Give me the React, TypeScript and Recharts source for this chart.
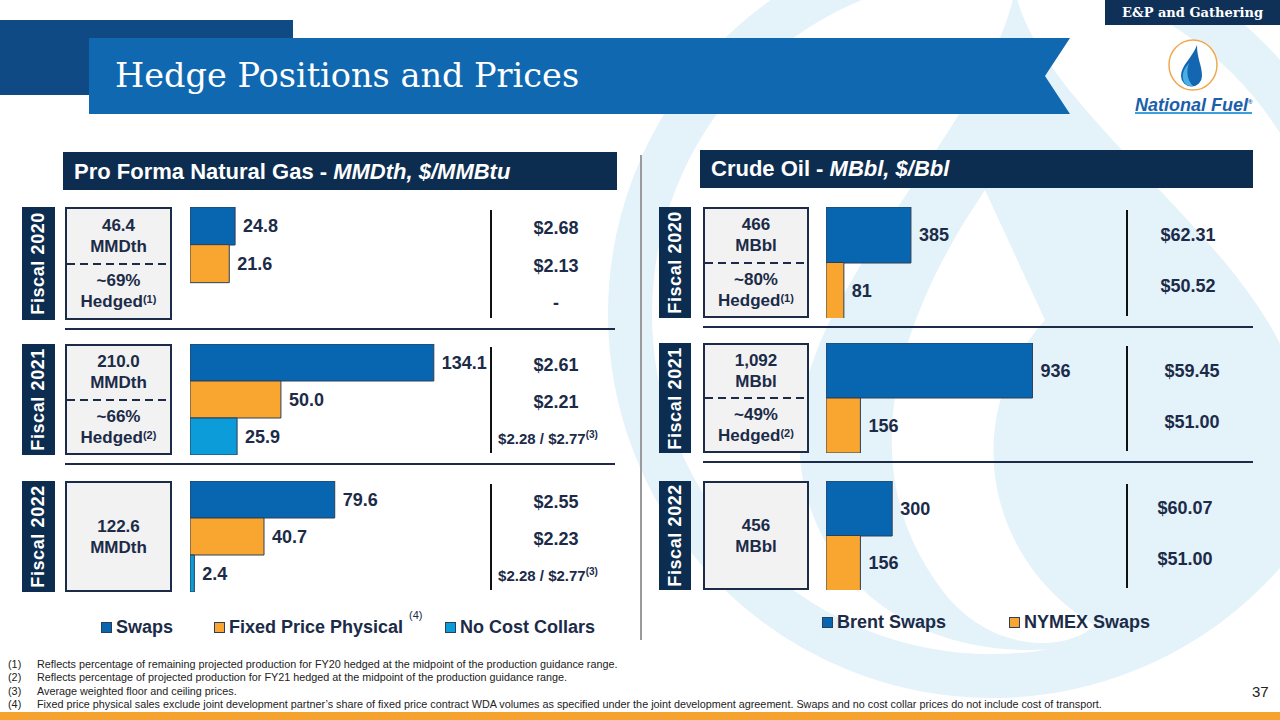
import React from 'react';
import { BarChart, Bar, XAxis, YAxis, Cell, LabelList } from 'recharts';

// ---------- data ----------
const gasYears = ['Fiscal 2020', 'Fiscal 2021', 'Fiscal 2022'];
const gasSeries = ['Swaps', 'Fixed Price Physical', 'No Cost Collars'];
const gasSwaps = [24.8, 134.1, 79.6];
const gasFixed = [21.6, 50.0, 40.7];
const gasCollars = [0, 25.9, 2.4];
const gasTotals = ['46.4', '210.0', '122.6'];
const gasHedged = ['~69%', '~66%', ''];
const gasHedgeNotes = ['(1)', '(2)', ''];
const gasSwapPrices = ['$2.68', '$2.61', '$2.55'];
const gasFixedPrices = ['$2.13', '$2.21', '$2.23'];
const gasCollarPrices = ['-', '$2.28 / $2.77', '$2.28 / $2.77'];
const gasCollarNotes = ['', '(3)', '(3)'];

const oilYears = ['Fiscal 2020', 'Fiscal 2021', 'Fiscal 2022'];
const oilSeries = ['Brent Swaps', 'NYMEX Swaps'];
const oilBrent = [385, 936, 300];
const oilNymex = [81, 156, 156];
const oilTotals = ['466', '1,092', '456'];
const oilHedged = ['~80%', '~49%', ''];
const oilHedgeNotes = ['(1)', '(2)', ''];
const oilBrentPrices = ['$62.31', '$59.45', '$60.07'];
const oilNymexPrices = ['$50.52', '$51.00', '$51.00'];

const footnotes = [
  'Reflects percentage of remaining projected production for FY20 hedged at the midpoint of the production guidance range.',
  'Reflects percentage of projected production for FY21 hedged at the midpoint of the production guidance range.',
  'Average weighted floor and ceiling prices.',
  "Fixed price physical sales exclude joint development partner\u2019s share of fixed price contract WDA volumes as specified under the joint development agreement. Swaps and no cost collar prices do not include cost of transport.",
];

// ---------- styles ----------
const FONT = '"Liberation Sans", Arial, Helvetica, sans-serif';
const NAVY = '#1b2b48';
const DARK = '#0d2d50';
const BLUE = '#0866b0';
const ORANGE = '#f9a631';
const LIGHTBLUE = '#0b9cd9';
const BAR_STROKE = '#2c3f58';
const PALE = '#e4f2fa';

const gasColors = [BLUE, ORANGE, LIGHTBLUE];
const oilColors = [BLUE, ORANGE];

// layout
const gasRowTop = [207, 344, 481];
const gasRowH = [113, 111, 111];
const oilRowTop = [207, 343, 481];
const oilRowH = [111, 110, 109];

function RowChart(props: {
  left: number; top: number; width: number; height: number;
  data: { name: string; value: number }[]; colors: string[]; max: number;
  fmt: (v: number) => string; zeroOffset: number;
}) {
  const { left, top, width, height, data, colors, max, fmt, zeroOffset } = props;
  return (
    <div style={{ position: 'absolute', left, top, width, height }}>
      <BarChart
        layout="vertical"
        width={width}
        height={height}
        data={data}
        margin={{ top: 0, right: 0, bottom: 0, left: 0 }}
        barCategoryGap={0}
      >
        <XAxis type="number" domain={[0, max]} hide />
        <YAxis type="category" dataKey="name" hide />
        <Bar dataKey="value" isAnimationActive={false} stroke={BAR_STROKE} strokeWidth={1}>
          {data.map((d, i) => (
            <Cell key={i} fill={colors[i]} />
          ))}
          <LabelList
            dataKey="value"
            content={(p: any) => {
              const v = Number(p.value);
              const x = Number(p.x) + Number(p.width) + (v === 0 ? zeroOffset : 8);
              const y = Number(p.y) + Number(p.height) / 2;
              return (
                <text
                  x={x}
                  y={y}
                  dominantBaseline="central"
                  fontFamily={FONT}
                  fontWeight="bold"
                  fontSize={18}
                  fill={NAVY}
                >
                  {fmt(v)}
                </text>
              );
            }}
          />
        </Bar>
      </BarChart>
    </div>
  );
}

function Tag({ left, top, width, height, label }: any) {
  return (
    <div
      style={{
        position: 'absolute', left, top, width, height, background: DARK,
        display: 'flex', alignItems: 'center', justifyContent: 'center',
      }}
    >
      <div
        style={{
          writingMode: 'vertical-rl', transform: 'rotate(180deg)', color: '#fff',
          fontFamily: FONT, fontWeight: 'bold', fontSize: 18, letterSpacing: 0.6, whiteSpace: 'nowrap',
        }}
      >
        {label}
      </div>
    </div>
  );
}

function InfoBox({ left, top, width, height, total, unit, hedged, note }: any) {
  const txt: React.CSSProperties = {
    fontFamily: FONT, fontWeight: 'bold', fontSize: 17, color: NAVY, lineHeight: '21px', textAlign: 'center',
  };
  return (
    <div
      style={{
        position: 'absolute', left, top, width, height, boxSizing: 'border-box',
        border: `2px solid ${NAVY}`, background: '#f2f2f2', display: 'flex', flexDirection: 'column',
      }}
    >
      {hedged ? (
        <>
          <div style={{ flex: 1, display: 'flex', flexDirection: 'column', justifyContent: 'center', ...txt }}>
            <div>{total}</div>
            <div>{unit}</div>
          </div>
          <div
            style={{
              height: 2, margin: '0 0', background: `repeating-linear-gradient(to right, ${NAVY} 0 8px, transparent 8px 13px)`,
            }}
          />
          <div style={{ flex: 1, display: 'flex', flexDirection: 'column', justifyContent: 'center', ...txt }}>
            <div>{hedged}</div>
            <div>
              Hedged<sup style={{ fontSize: 11, verticalAlign: 'top', position: 'relative', top: -2 }}>{note}</sup>
            </div>
          </div>
        </>
      ) : (
        <div style={{ flex: 1, display: 'flex', flexDirection: 'column', justifyContent: 'center', ...txt }}>
          <div>{total}</div>
          <div>{unit}</div>
        </div>
      )}
    </div>
  );
}

function Price({ cx, cy, text, note, size }: any) {
  return (
    <div
      style={{
        position: 'absolute', left: cx - 100, width: 200, top: cy - 11, lineHeight: '22px', textAlign: 'center',
        fontFamily: FONT, fontWeight: 'bold', fontSize: size || 18, color: NAVY, whiteSpace: 'nowrap',
      }}
    >
      {text}
      {note ? <sup style={{ fontSize: 10, verticalAlign: 'top', position: 'relative', top: -4 }}>{note}</sup> : null}
    </div>
  );
}

function Line({ left, top, width, height, color }: any) {
  return <div style={{ position: 'absolute', left, top, width, height, background: color }} />;
}

function LegendItem({ left, top, color, label, note }: any) {
  return (
    <div style={{ position: 'absolute', left, top, display: 'flex', alignItems: 'center', whiteSpace: 'nowrap' }}>
      <div
        style={{
          width: 9, height: 9, background: color, border: `1px solid ${BAR_STROKE}`, marginRight: 4,
        }}
      />
      <span style={{ fontFamily: FONT, fontWeight: 'bold', fontSize: 18, color: NAVY, lineHeight: '22px' }}>
        {label}
      </span>
      {note ? (
        <span style={{ fontFamily: FONT, fontSize: 11, color: NAVY, position: 'relative', top: -12, marginLeft: 6 }}>
          {note}
        </span>
      ) : null}
    </div>
  );
}

export default function App() {
  return (
    <div
      style={{
        position: 'absolute', left: 0, top: 0, width: 1280, height: 720, overflow: 'hidden', background: '#fff',
        fontFamily: FONT,
      }}
    >
      {/* watermark */}
      <svg width={1280} height={720} style={{ position: 'absolute', left: 0, top: 0 }}>
        <circle cx={992} cy={314} r={362} fill="none" stroke={PALE} strokeWidth={44} />
        <path
          d="M 1015 -10 C 1040 120, 1300 270, 1300 420 C 1300 560, 1160 650, 1030 650 C 880 650, 790 545, 800 420 C 810 280, 990 120, 1015 -10 Z"
          fill={PALE}
        />
        <path
          d="M 985 190 C 890 330, 850 480, 950 600 C 1000 655, 1070 650, 1095 625 C 990 565, 955 420, 1045 320 Z"
          fill="#fff"
        />
      </svg>

      {/* title banner */}
      <div style={{ position: 'absolute', left: 0, top: 20, width: 293, height: 75, background: '#0f4a85' }} />
      <svg width={1280} height={130} style={{ position: 'absolute', left: 0, top: 0 }}>
        <polygon points="89,38 1070,38 1045,76 1070,114 89,114" fill="#1068b1" />
      </svg>
      <div
        style={{
          position: 'absolute', left: 115, top: 56, color: '#fff', fontFamily: '"DejaVu Serif", serif', fontSize: 33.5,
          lineHeight: '40px', whiteSpace: 'nowrap',
        }}
      >
        Hedge Positions and Prices
      </div>

      {/* E&P box */}
      <div
        style={{
          position: 'absolute', left: 1105, top: 0, width: 175, height: 25, background: '#0f3057', color: '#fff',
          fontFamily: '"DejaVu Serif", serif', fontWeight: 'bold', fontSize: 13, lineHeight: '25px', textAlign: 'center',
        }}
      >
        E&amp;P and Gathering
      </div>

      {/* logo */}
      <svg width={1280} height={130} style={{ position: 'absolute', left: 0, top: 0 }}>
        <ellipse cx={1193} cy={65} rx={24} ry={25} fill="#fff" stroke="#f1a94e" strokeWidth={1.5} />
        <path d="M 1197 45 C 1193 57, 1181 65, 1181 76 A 10.5 10.5 0 0 0 1202 76 C 1202 65, 1197 59, 1197 45 Z" fill="#1566b0" />
        <path d="M 1189 63 C 1184 69, 1182 73, 1183 79 A 8 8 0 0 0 1193 86 C 1187 80, 1186 71, 1189 63 Z" fill="#49b0e4" />
        <line x1={1135} y1={113} x2={1252} y2={113} stroke="#3aa0dc" strokeWidth={2} />
      </svg>
      <div
        style={{
          position: 'absolute', left: 1135, top: 92, color: '#1b5fab', fontFamily: FONT, fontStyle: 'italic',
          fontWeight: 'bold', fontSize: 18, lineHeight: '20px', whiteSpace: 'nowrap',
        }}
      >
        National Fuel<sup style={{ fontSize: 6 }}>®</sup>
      </div>

      {/* panel divider */}
      <Line left={640} top={155} width={2} height={485} color="#9a9a9a" />

      {/* headers */}
      <div
        style={{
          position: 'absolute', left: 63, top: 152, width: 554, height: 38, background: DARK, color: '#fff',
          fontFamily: FONT, fontWeight: 'bold', fontSize: 22, lineHeight: '40px', paddingLeft: 11, boxSizing: 'border-box',
          whiteSpace: 'nowrap',
        }}
      >
        Pro Forma Natural Gas - <i>MMDth, $/MMBtu</i>
      </div>
      <div
        style={{
          position: 'absolute', left: 700, top: 150, width: 553, height: 38, background: DARK, color: '#fff',
          fontFamily: FONT, fontWeight: 'bold', fontSize: 22, lineHeight: '38px', paddingLeft: 11, boxSizing: 'border-box',
          whiteSpace: 'nowrap',
        }}
      >
        Crude Oil - <i>MBbl, $/Bbl</i>
      </div>

      {/* gas rows */}
      {gasYears.map((yr, i) => {
        const top = gasRowTop[i];
        const h = gasRowH[i];
        const data = gasSeries.map((name, j) => ({ name, value: [gasSwaps, gasFixed, gasCollars][j][i] }));
        const band = h / 3;
        const prices = [gasSwapPrices[i], gasFixedPrices[i], gasCollarPrices[i]];
        return (
          <React.Fragment key={yr}>
            <Tag left={22} top={top} width={33} height={h} label={yr} />
            <InfoBox left={65} top={top} width={107} height={h} total={gasTotals[i]} unit="MMDth" hedged={gasHedged[i]} note={gasHedgeNotes[i]} />
            <RowChart left={190} top={top} width={300} height={h} data={data} colors={gasColors} max={165}
              fmt={(v) => (v === 0 ? '-' : v.toFixed(1))} zeroOffset={12} />
            <Line left={490} top={top + 3} width={2} height={h - 5} color="#111" />
            {prices.map((p, j) => (
              <Price key={j} cx={p.length > 6 ? 548 : 556} cy={top + band * (j + 0.5) + 2} text={p}
                note={j === 2 ? gasCollarNotes[i] : ''} size={j === 2 && p.length > 6 ? 15 : 18} />
            ))}
            {i < 2 ? <Line left={65} top={top + h + 8} width={550} height={2} color={NAVY} /> : null}
          </React.Fragment>
        );
      })}

      {/* oil rows */}
      {oilYears.map((yr, i) => {
        const top = oilRowTop[i];
        const h = oilRowH[i];
        const data = oilSeries.map((name, j) => ({ name, value: [oilBrent, oilNymex][j][i] }));
        const band = h / 2;
        const prices = [oilBrentPrices[i], oilNymexPrices[i]];
        return (
          <React.Fragment key={yr}>
            <Tag left={659} top={top} width={32} height={h} label={yr} />
            <InfoBox left={703} top={top} width={106} height={h} total={oilTotals[i]} unit="MBbl" hedged={oilHedged[i]} note={oilHedgeNotes[i]} />
            <RowChart left={826} top={top} width={300} height={h} data={data} colors={oilColors} max={1360}
              fmt={(v) => String(v)} zeroOffset={8} />
            <Line left={1126} top={top + 3} width={2} height={h - 5} color="#111" />
            {prices.map((p, j) => (
              <Price key={j} cx={[1188, 1192, 1185][i]} cy={top + band * (j + 0.5) - (j === 1 ? 4 : 0)} text={p} />
            ))}
            {i < 2 ? <Line left={703} top={top + h + 8} width={550} height={2} color={NAVY} /> : null}
          </React.Fragment>
        );
      })}

      {/* legends */}
      <LegendItem left={101} top={616} color={gasColors[0]} label={gasSeries[0]} />
      <LegendItem left={214} top={616} color={gasColors[1]} label={gasSeries[1]} note="(4)" />
      <LegendItem left={445} top={616} color={gasColors[2]} label={gasSeries[2]} />
      <LegendItem left={822} top={611} color={oilColors[0]} label={oilSeries[0]} />
      <LegendItem left={1009} top={611} color={oilColors[1]} label={oilSeries[1]} />

      {/* footnotes */}
      {footnotes.map((f, i) => (
        <div
          key={i}
          style={{
            position: 'absolute', left: 8, top: 657 + i * 13.4, fontFamily: FONT, fontSize: 10.8, color: '#222',
            lineHeight: '14px', whiteSpace: 'nowrap',
          }}
        >
          <span style={{ display: 'inline-block', width: 29 }}>({i + 1})</span>
          {f}
        </div>
      ))}
      <div style={{ position: 'absolute', left: 1252, top: 683, fontFamily: FONT, fontSize: 15, color: '#222' }}>37</div>

      {/* bottom strip */}
      <div style={{ position: 'absolute', left: 0, top: 712, width: 1280, height: 8, background: '#f6a22f' }} />
    </div>
  );
}
